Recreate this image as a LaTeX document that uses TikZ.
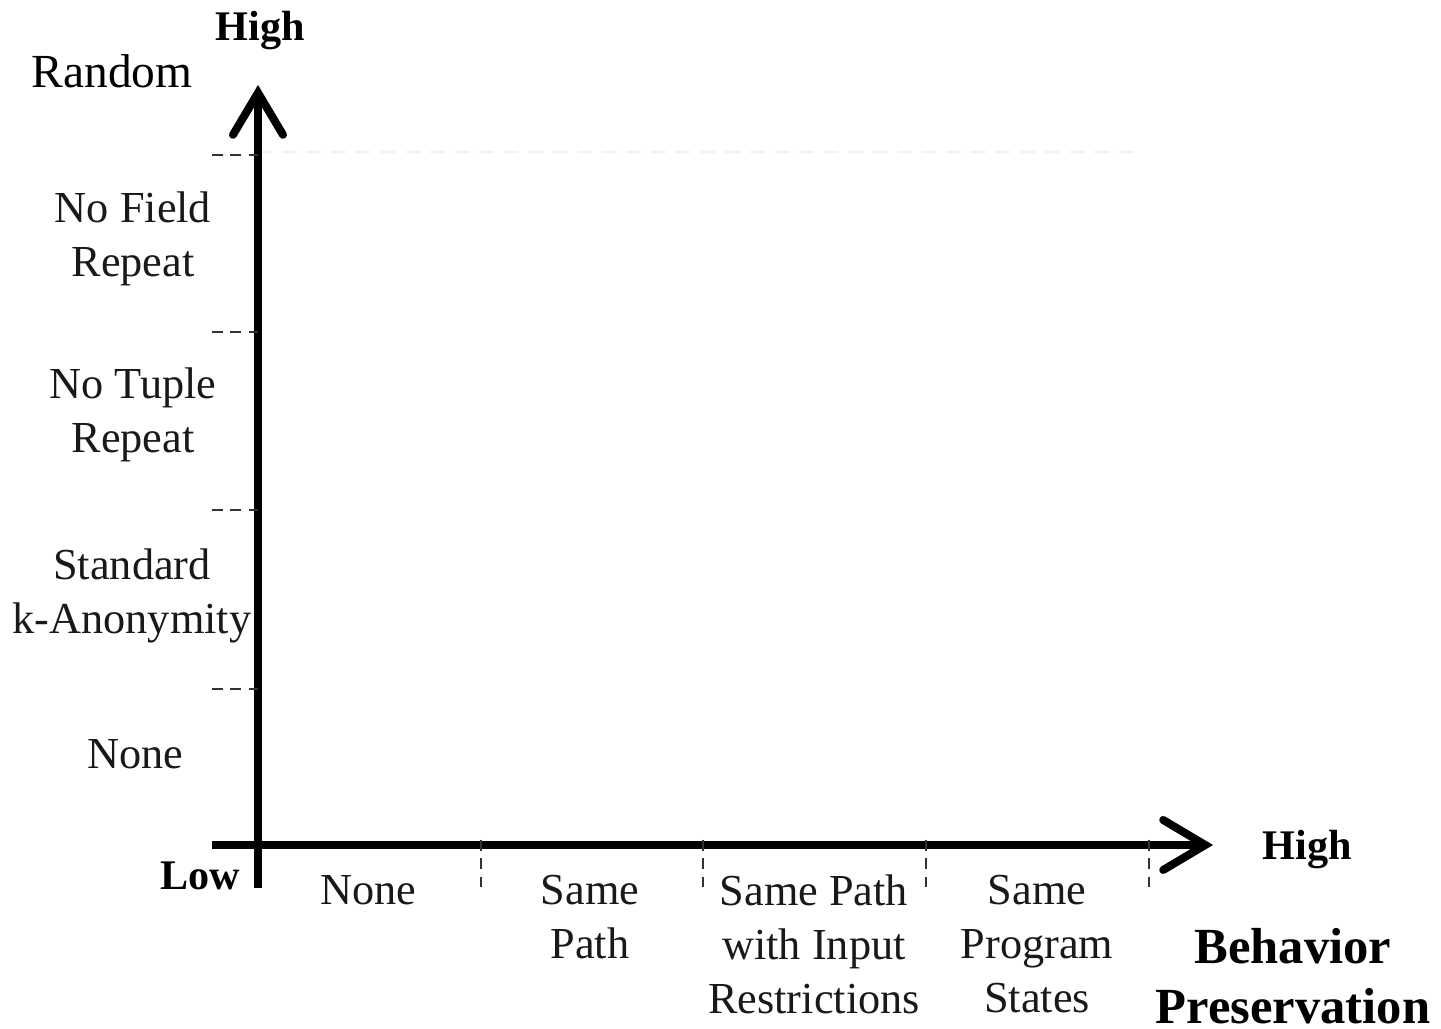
\documentclass[tikz,border=0pt]{standalone}
\usepackage{fontspec}
\setmainfont{Liberation Serif}
\usepackage{tikz}
\usetikzlibrary{arrows.meta,positioning,calc}
\tikzset{
  axisline/.style={line width=0.08cm, black,
    -{Straight Barb[length=0.42cm, width=0.5cm, line cap=round]}},
  lvltick/.style={black!80, line width=0.5pt, dash pattern=on 3pt off 2.2pt},
  lvllabel/.style={font=\fontsize{12.6}{15.4}\selectfont, align=center,
    text=black!90, inner sep=0pt},
  axisend/.style={font=\fontsize{12}{14}\selectfont\bfseries, inner sep=0pt},
  axisname/.style={font=\fontsize{14.4}{17}\selectfont\bfseries,
    align=center, inner sep=0pt},
}
\begin{document}
\begin{tikzpicture}[x=1cm, y=1cm]
\useasboundingbox (0,0) rectangle (14.41,10.29);

\coordinate (ybot) at (2.58, 1.41);
\coordinate (ytop) at (2.58, 9.44);
\coordinate (xleft) at (2.12, 1.84);
\coordinate (xright) at (12.13, 1.84);

%% Axes
\draw[gray!12, line width=0.4pt, dash pattern=on 4pt off 3pt]
  (2.58, 8.77) -- (11.40, 8.77);
\draw[axisline] (ybot) -- (ytop);
\draw[axisline] (xleft) -- (xright);

%% Level ticks
\draw[lvltick] (2.12, 8.74) -- (2.58, 8.74);
\draw[lvltick] (2.12, 6.97) -- (2.58, 6.97);
\draw[lvltick] (2.12, 5.19) -- (2.58, 5.19);
\draw[lvltick] (2.12, 3.40) -- (2.58, 3.40);
\draw[lvltick] (4.81, 1.89) -- (4.81, 1.41);
\draw[lvltick] (7.03, 1.89) -- (7.03, 1.41);
\draw[lvltick] (9.26, 1.89) -- (9.26, 1.41);
\draw[lvltick] (11.49, 1.89) -- (11.49, 1.41);

%% Privacy levels
\node[font=\fontsize{13.5}{16}\selectfont, inner sep=0pt] (random) at (1.12, 9.58) {Random};
\node[axisend] (yhigh) at (2.60, 9.98) {High};
\node[lvllabel] (nofield)  at (1.33, 7.90) {No Field\\Repeat};
\node[lvllabel] (notuple)  at (1.33, 6.14) {No Tuple\\Repeat};
\node[lvllabel] (standard) at (1.32, 4.33) {Standard\\k-Anonymity};
\node[lvllabel] (ynone)    at (1.35, 2.75) {None};
\node[axisend] (low) at (2.00, 1.53) {Low};

%% Behavior levels
\node[lvllabel] (xnone)    at (3.68, 1.39) {None};
\node[lvllabel] (samepath) at (5.90, 1.12) {Same\\Path};
\node[lvllabel] (pathinput) at (8.14, 0.85) {Same Path\\with Input\\Restrictions};
\node[lvllabel] (progstate) at (10.37, 0.85) {Same\\Program\\States};
\node[axisend] (xhigh) at (13.07, 1.79) {High};
\node[axisname] (behavior) at (12.93, 0.53) {Behavior\\Preservation};
\end{tikzpicture}
\end{document}
